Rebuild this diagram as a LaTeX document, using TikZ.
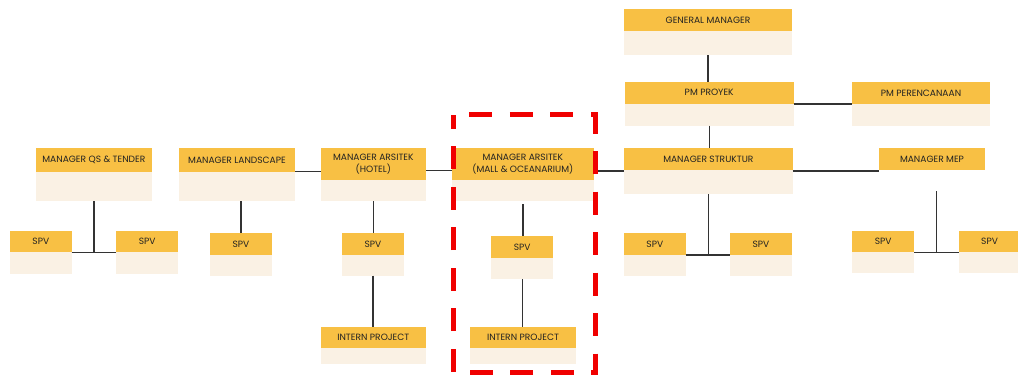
\documentclass[tikz,border=0pt]{standalone}
\usepackage{fontspec}
\setmainfont{Poppins}
\usetikzlibrary{calc}
\definecolor{yel}{HTML}{F8C044}
\definecolor{crm}{HTML}{FAF1E4}
\definecolor{ln}{HTML}{333333}
\definecolor{txt}{HTML}{222222}
\definecolor{rd}{HTML}{F00000}
\tikzset{
  head/.style={fill=yel, inner sep=0pt, outer sep=0pt, text=txt, align=center,
    font=\fontsize{9.1}{12.4}\selectfont},
  body/.style={inner sep=0pt, outer sep=0pt},
  conn/.style={draw=ln, line width=1.3pt},
  focus/.style={draw=rd, line width=5pt, dash pattern=on 23pt off 17.5pt, dash phase=24.5pt}
}
\newcommand\orgbox[8]{%
  \node[head, minimum width={#4-#2}, minimum height={#5-#3}] (#1) at ({(#2+#4)/2},{(#3+#5)/2}) {#8};
  \node[body, fill=#7, minimum width={#4-#2}, minimum height={#6-#5}] (#1-b) at ({(#2+#4)/2},{(#5+#6)/2}) {};
}
\begin{document}
\begin{tikzpicture}[x=1pt,y=-1pt]
\useasboundingbox (0,0) rectangle (1018,376);
\orgbox{gm}{624}{9.3}{792}{31}{55}{crm}{GENERAL MANAGER}
\orgbox{pm}{624.7}{82}{793.7}{103.5}{125.7}{crm}{PM PROYEK}
\orgbox{pmp}{852.3}{82}{989.7}{104}{126}{crm}{PM PERENCANAAN}
\orgbox{st}{624}{148}{792.7}{170}{194}{crm}{MANAGER STRUKTUR}
\orgbox{mep}{879.3}{148}{984.7}{170}{191}{white}{MANAGER MEP}
\orgbox{stl}{624}{233.3}{685.7}{255}{275.7}{crm}{SPV}
\orgbox{str}{730}{233.3}{792}{255}{275.7}{crm}{SPV}
\orgbox{mpl}{852.3}{230.7}{914}{252.3}{273.3}{crm}{SPV}
\orgbox{mpr}{958.7}{230.7}{1020.4}{252.3}{273.3}{crm}{SPV}
\orgbox{qs}{35.7}{148.3}{152}{171.7}{201.3}{crm}{MANAGER QS \& TENDER}
\orgbox{qsl}{10}{230.7}{71.7}{252.3}{273.7}{crm}{SPV}
\orgbox{qsr}{116.3}{230.7}{178}{252.3}{273.7}{crm}{SPV}
\orgbox{ls}{179}{148.3}{295}{171.7}{201.3}{crm}{MANAGER LANDSCAPE}
\orgbox{lss}{210}{233.3}{272}{255}{275.7}{crm}{SPV}
\orgbox{ho}{320.7}{148.3}{426}{180}{201.3}{crm}{MANAGER ARSITEK\\(HOTEL)}
\orgbox{hos}{342}{233.3}{404}{255}{275.7}{crm}{SPV}
\orgbox{hoi}{320.7}{326.7}{426}{348.3}{364.3}{crm}{INTERN PROJECT}
\orgbox{ma}{452}{148.3}{593.7}{180}{201.3}{crm}{MANAGER ARSITEK\\(MALL \& OCEANARIUM)}
\orgbox{mas}{491.3}{236}{553}{258}{279}{crm}{SPV}
\orgbox{mai}{470}{326.7}{576}{348.3}{364.3}{crm}{INTERN PROJECT}
% connectors
\draw[conn] (gm-b.south) -- (gm-b.south |- pm.north);
\draw[conn] (pm-b.north east |- pmp-b.north west) -- (pmp-b.north west);
\draw[conn] (pm-b.south) -- (pm-b.south |- st.north);
\draw[conn] (ma.east |- 0,171) -- (st.west |- 0,171);
\draw[conn] (st.east |- 0,171) -- (mep.west |- 0,171);
\draw[conn] (ls.east |- 0,171.3) -- (ho.west |- 0,171.3);
\draw[conn] (ho.east |- 0,170.7) -- (ma.west |- 0,170.7);
\draw[conn] (st-b.south) -- (st-b.south |- stl.south east);
\draw[conn] (stl.south east) -- (str.south west);
\coordinate (mepj) at ($(mpl.south east)!0.5!(mpr.south west)$);
\draw[conn] (mepj |- mep-b.south) -- (mepj);
\draw[conn] (mpl.south east) -- (mpr.south west);
\draw[conn] (qs-b.south) -- (qs-b.south |- qsl.south east);
\draw[conn] (qsl.south east) -- (qsr.south west);
\draw[conn] (lss.north |- ls-b.south) -- (lss.north);
\draw[conn] (ho-b.south) -- (ho-b.south |- hos.north);
\draw[conn] (hos-b.south) -- (hos-b.south |- hoi.north);
\draw[conn] ([yshift=-2.7pt]ma-b.south) -- (ma-b.south |- mas.north);
\draw[conn] (mas-b.south) -- (mas-b.south |- mai.north);
% highlight frame
\draw[focus] (453.3,114.8) -- (595,114.8) -- (595,372.7) -- (453.3,372.7) -- cycle;
\end{tikzpicture}
\end{document}
